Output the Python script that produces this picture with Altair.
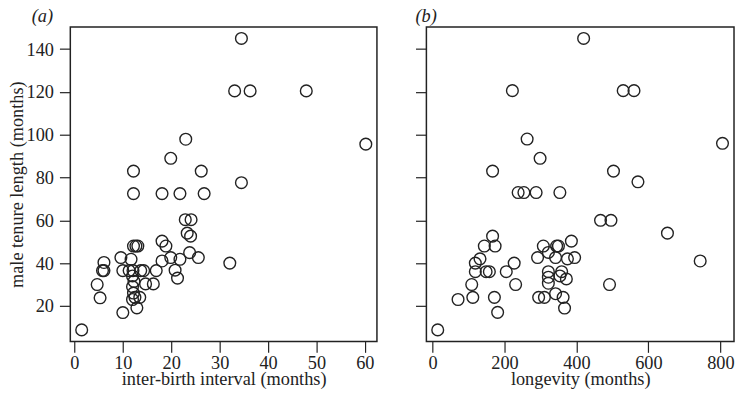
import altair as alt
import pandas as pd

# panel (a): inter-birth interval (months) vs male tenure length (months)
ibi_months = [34.5, 33.1, 36.3, 47.9, 60.2, 23.0, 19.9, 26.2, 12.2, 34.5,
              12.2, 18.1, 21.8, 26.8, 22.9, 24.1, 23.3, 24.0, 18.1, 18.9,
              12.2, 12.7, 13.1, 23.8, 25.6, 19.9, 21.8, 18.1, 32.1, 20.8,
              21.3, 16.9, 14.3, 13.7, 14.7, 16.3, 9.6, 11.7, 10.0, 11.3,
              12.1, 6.1, 5.8, 6.1, 4.7, 5.3, 1.5, 10.0, 12.9, 12.0,
              12.3, 12.0, 12.2, 12.5, 12.0, 13.5]
tenure_a = [145, 120.5, 120.5, 120.5, 95.6, 97.9, 89, 83, 83, 77.6,
            72.5, 72.5, 72.5, 72.5, 60.3, 60.3, 54, 52.6, 50.3, 48,
            48, 48, 48, 44.9, 42.6, 42.6, 41.8, 41, 40, 36.7,
            33, 36.5, 36.5, 36.5, 30.3, 30.3, 42.6, 41.8, 36.5, 36.5,
            36.5, 40.3, 36.5, 36.5, 30, 23.8, 8.8, 16.9, 19.1, 34,
            31.5, 29, 26, 24, 23, 24]

# panel (b): longevity (months) vs male tenure length (months)
longevity_months = [420, 222, 530, 560, 806, 263, 299, 167, 503, 571,
                    238, 254, 288, 354, 467, 496, 653, 744, 492, 14.5,
                    71, 112, 109, 119, 149, 158, 119, 132, 144, 167,
                    174, 172, 181, 205, 227, 231, 292, 308, 322, 345,
                    350, 342, 375, 395, 386, 322, 359, 322, 322, 354,
                    372, 295, 311, 342, 363, 367]
tenure_b = [145, 120.6, 120.6, 120.6, 96, 98, 89, 83, 83, 78,
            73, 73, 73, 73, 60, 60, 54, 41, 30, 8.8,
            23, 24, 30, 36, 36, 36, 40, 42, 48, 52.6,
            48, 24, 17, 36, 40, 30, 42.6, 48, 45, 48,
            48, 42.6, 42, 42.6, 50.3, 36, 36, 33.4, 30.6, 34,
            32.6, 24, 24, 25.7, 24, 19]

y_ticks = [20, 40, 60, 80, 100, 120, 140]
ibi_ticks = [0, 10, 20, 30, 40, 50, 60]
lon_ticks = [0, 200, 400, 600, 800]

FONT = "Liberation Serif"
INK = "#222222"
FS = 18.5

df_a = pd.DataFrame({"x": ibi_months, "y": tenure_a})
df_b = pd.DataFrame({"x": longevity_months, "y": tenure_b})


def panel(df, label, label_dx, xtitle, xdomain, xticks, show_y, width):
    yaxis_kw = dict(values=y_ticks, labels=show_y)
    if show_y:
        yaxis_kw["title"] = "male tenure length (months)"
    else:
        yaxis_kw["title"] = None
    return (
        alt.Chart(df)
        .mark_point(shape="circle", filled=False, size=140, strokeWidth=1.4,
                    color=INK, opacity=1)
        .encode(
            x=alt.X("x:Q", scale=alt.Scale(domain=xdomain, nice=False, zero=False),
                    axis=alt.Axis(values=xticks, title=xtitle)),
            y=alt.Y("y:Q", scale=alt.Scale(domain=[3.4, 150.4], nice=False, zero=False),
                    axis=alt.Axis(**yaxis_kw)),
        )
        .properties(
            width=width,
            height=318,
            title=alt.TitleParams(text=label, anchor="start", frame="group",
                                  dx=label_dx, font=FONT, fontStyle="italic",
                                  fontSize=FS, fontWeight="normal", color=INK,
                                  offset=1),
        )
    )


a = panel(df_a, "(a)", -39, "inter-birth interval (months)", [-0.85, 62.5],
          ibi_ticks, True, 310)
b = panel(df_b, "(b)", -11, "longevity (months)", [-17, 838],
          lon_ticks, False, 311)

chart = (
    alt.hconcat(a, b, spacing=36)
    .properties(padding={"left": -2, "top": -4, "right": 0, "bottom": 0})
    .configure_view(stroke=INK, strokeWidth=1.5)
    .configure_axis(
        domain=False, grid=False, ticks=True, tickSize=11, tickColor=INK,
        tickWidth=1.2, labelFont=FONT, labelFontSize=FS, labelColor=INK,
        labelPadding=6, titleFont=FONT, titleFontSize=FS,
        titleFontWeight="normal", titleColor=INK,
    )
    .configure_axisX(labelPadding=1, titlePadding=-2)
    .configure_axisY(titlePadding=0)
)

chart.save("out.html", embed_options={"renderer": "svg", "actions": False})
